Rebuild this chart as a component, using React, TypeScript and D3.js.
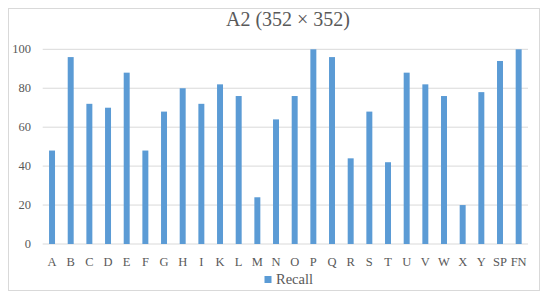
import { useEffect, useRef } from "react";
import * as d3 from "d3";

const categories = ["A", "B", "C", "D", "E", "F", "G", "H", "I", "K", "L", "M", "N", "O", "P", "Q", "R", "S", "T", "U", "V", "W", "X", "Y", "SP", "FN"];
const recall = [48, 96, 72, 70, 88, 48, 68, 80, 72, 82, 76, 24, 64, 76, 100, 96, 44, 68, 42, 88, 82, 76, 20, 78, 94, 100];
const yTicks = [0, 20, 40, 60, 80, 100];
const title = "A2 (352 × 352)";
const seriesName = "Recall";

const W = 550;
const H = 301;
const font = "'Liberation Serif', 'DejaVu Serif', serif";

export default function App() {
    const svgRef = useRef<SVGSVGElement>(null);

    useEffect(() => {
        const svg = d3.select(svgRef.current);
        svg.selectAll("*").remove();

        const x = d3.scaleBand().domain(categories).range([42.7, 528]).paddingInner(0.68).paddingOuter(0.34);
        const y = d3.scaleLinear().domain([0, 100]).range([244, 49.3]);

        svg.append("rect")
            .attr("x", 8.5).attr("y", 8.5).attr("width", 531).attr("height", 282)
            .attr("fill", "white").attr("stroke", "#d9d9d9");

        svg.append("text")
            .attr("x", 288).attr("y", 25.5)
            .attr("text-anchor", "middle")
            .attr("font-family", font).attr("font-size", 20)
            .attr("fill", "#595959")
            .text(title);

        // gridlines
        svg.selectAll("line.grid")
            .data(yTicks)
            .join("line")
            .attr("class", "grid")
            .attr("x1", 42.7).attr("x2", 528)
            .attr("y1", d => y(d)).attr("y2", d => y(d))
            .attr("stroke", "#d9d9d9").attr("stroke-width", 1);

        svg.selectAll("text.ytick")
            .data(yTicks)
            .join("text")
            .attr("class", "ytick")
            .attr("x", 31).attr("y", d => y(d) + 4)
            .attr("text-anchor", "end")
            .attr("font-family", font).attr("font-size", 12.5)
            .attr("fill", "#595959")
            .text(d => d);

        svg.selectAll("rect.bar")
            .data(recall)
            .join("rect")
            .attr("class", "bar")
            .attr("x", (d, i) => x(categories[i])!)
            .attr("width", x.bandwidth())
            .attr("y", d => y(d))
            .attr("height", d => y(0) - y(d))
            .attr("fill", "#5b9bd5");

        svg.selectAll("text.xtick")
            .data(categories)
            .join("text")
            .attr("class", "xtick")
            .attr("x", d => x(d)! + x.bandwidth() / 2)
            .attr("y", 266)
            .attr("text-anchor", "middle")
            .attr("font-family", font).attr("font-size", 12.5)
            .attr("fill", "#595959")
            .text(d => d);

        // legend
        svg.append("rect")
            .attr("x", 264.5).attr("y", 276).attr("width", 7).attr("height", 7)
            .attr("fill", "#5b9bd5");
        svg.append("text")
            .attr("x", 276).attr("y", 284)
            .attr("font-family", font).attr("font-size", 14.5)
            .attr("fill", "#595959")
            .text(seriesName);
    }, []);

    return (
        <svg ref={svgRef} width={W} height={H} style={{ position: "absolute", left: 0, top: 0 }} />
    );
}
